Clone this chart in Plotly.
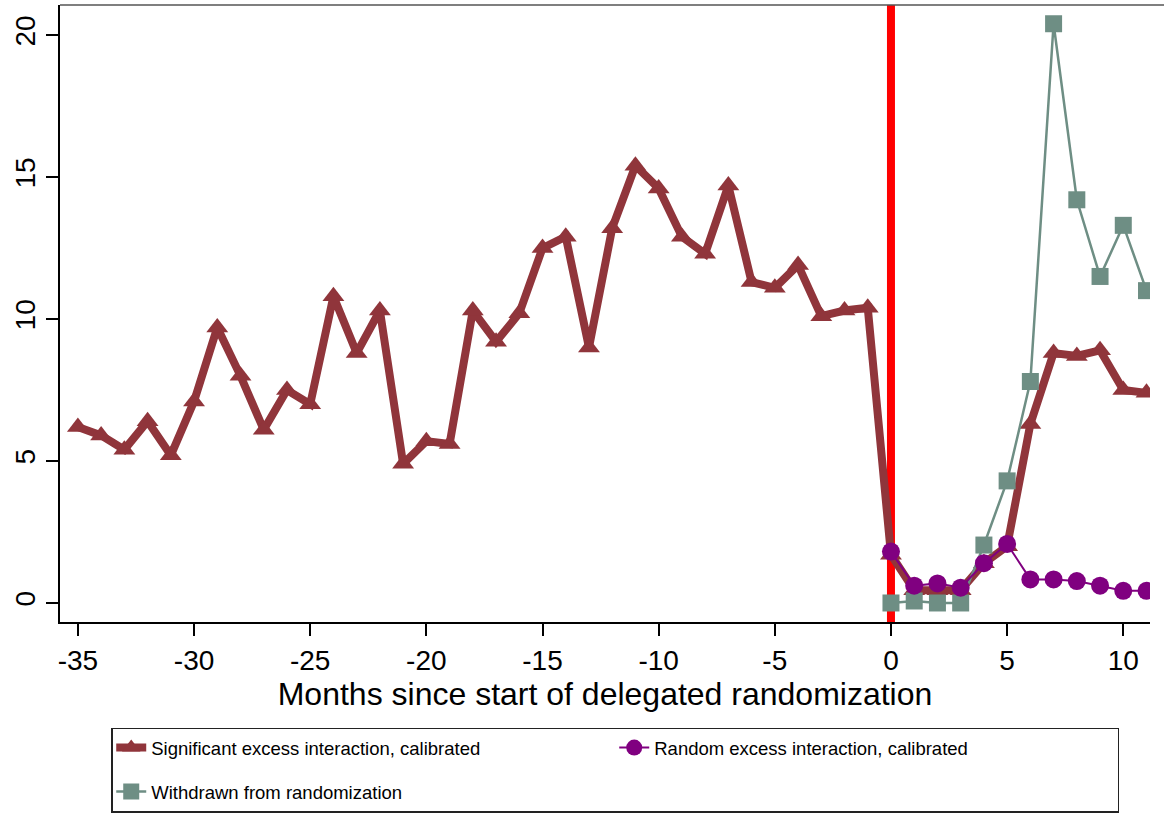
import plotly.graph_objects as go

# months relative to start of delegated randomization
months = list(range(-35, 12))
months_post = list(range(0, 12))

significant = [6.2, 5.9, 5.4, 6.4, 5.2, 7.1, 9.7, 8.0, 6.1, 7.5,
               7.0, 10.8, 8.8, 10.3, 4.9, 5.7, 5.6, 10.3, 9.2, 10.2,
               12.5, 12.9, 9.0, 13.2, 15.4, 14.6, 12.9, 12.3, 14.7, 11.3,
               11.1, 11.9, 10.1, 10.3, 10.4, 1.7, 0.45, 0.45, 0.45, 1.4,
               2.0, 6.3, 8.8, 8.7, 8.9, 7.5, 7.4]
random_excess = [1.81, 0.61, 0.69, 0.54, 1.40, 2.08, 0.83, 0.83, 0.77, 0.61, 0.43, 0.43]
withdrawn = [0.0, 0.07, 0.0, 0.0, 2.04, 4.3, 7.8, 20.4, 14.2, 11.5, 13.3, 11.0]

x_ticks = [-35, -30, -25, -20, -15, -10, -5, 0, 5, 10]
x_ticklabels = ['-35', '-30', '-25', '-20', '-15', '-10', '-5', '0', '5', '10']
y_ticks = [0, 5, 10, 15, 20]
treatment_month = 0

maroon = '#90353b'
purple = '#800080'
teal = '#6e8e84'
font = 'Liberation Sans, Arial, sans-serif'

fig = go.Figure()

# each trace in its own legend group so the wrapped row gets a gap (Stata spacing)
fig.add_trace(go.Scatter(
    x=months, y=significant, mode='lines+markers',
    name='Significant excess interaction, calibrated',
    line=dict(color=maroon, width=8),
    marker=dict(symbol='triangle-up', size=19, color=maroon),
    legendgroup='sig', legendrank=1,
))
fig.add_trace(go.Scatter(
    x=months_post, y=withdrawn, mode='lines+markers',
    name='Withdrawn from randomization',
    line=dict(color=teal, width=2.5),
    marker=dict(symbol='square', size=17, color=teal),
    legendgroup='wd', legendrank=3,
))
fig.add_trace(go.Scatter(
    x=months_post, y=random_excess, mode='lines+markers',
    name='Random excess interaction, calibrated',
    line=dict(color=purple, width=2),
    marker=dict(symbol='circle', size=18, color=purple),
    legendgroup='rnd', legendrank=2,
))

fig.add_vline(x=treatment_month, line=dict(color='#ff0000', width=8), layer='below')

# top frame line (Stata plot region border)
fig.add_shape(type='line', xref='paper', yref='paper', x0=0, x1=1.02, y0=1, y1=1,
              line=dict(color='#555555', width=1.5))

fig.update_layout(
    width=1164, height=822,
    margin=dict(l=60, r=14, t=5, b=200),
    plot_bgcolor='white', paper_bgcolor='white',
    font=dict(family=font, color='black'),
    showlegend=True,
    legend=dict(
        orientation='h', x=0.047, xanchor='left', y=-0.171, yanchor='top',
        bordercolor='#222222', borderwidth=1.5, bgcolor='white',
        font=dict(size=18.5, family=font),
        entrywidth=458, entrywidthmode='pixels',
        traceorder='grouped', tracegroupgap=17,
    ),
    xaxis=dict(
        range=[-35.77, 11.15], tickvals=x_ticks, ticktext=x_ticklabels,
        showgrid=False, zeroline=False, automargin=False,
        showline=True, linecolor='black', linewidth=2,
        ticks='outside', ticklen=12, tickwidth=1.5, tickcolor='black',
        tickfont=dict(size=28),
        title=dict(text='Months since start of delegated randomization',
                   font=dict(size=32), standoff=0),
    ),
    yaxis=dict(
        range=[-0.67, 21.06], tickvals=y_ticks, showgrid=False, zeroline=False,
        automargin=False,
        showline=True, linecolor='black', linewidth=2,
        ticks='outside', ticklen=12, tickwidth=1.5, tickcolor='black',
        tickfont=dict(size=28), tickangle=-90,
    ),
)

# drop the browser's default page margin so the figure sits at the window origin
fig.write_html('out.html', config={'displayModeBar': False},
               post_script="document.body.style.margin='0px';")
